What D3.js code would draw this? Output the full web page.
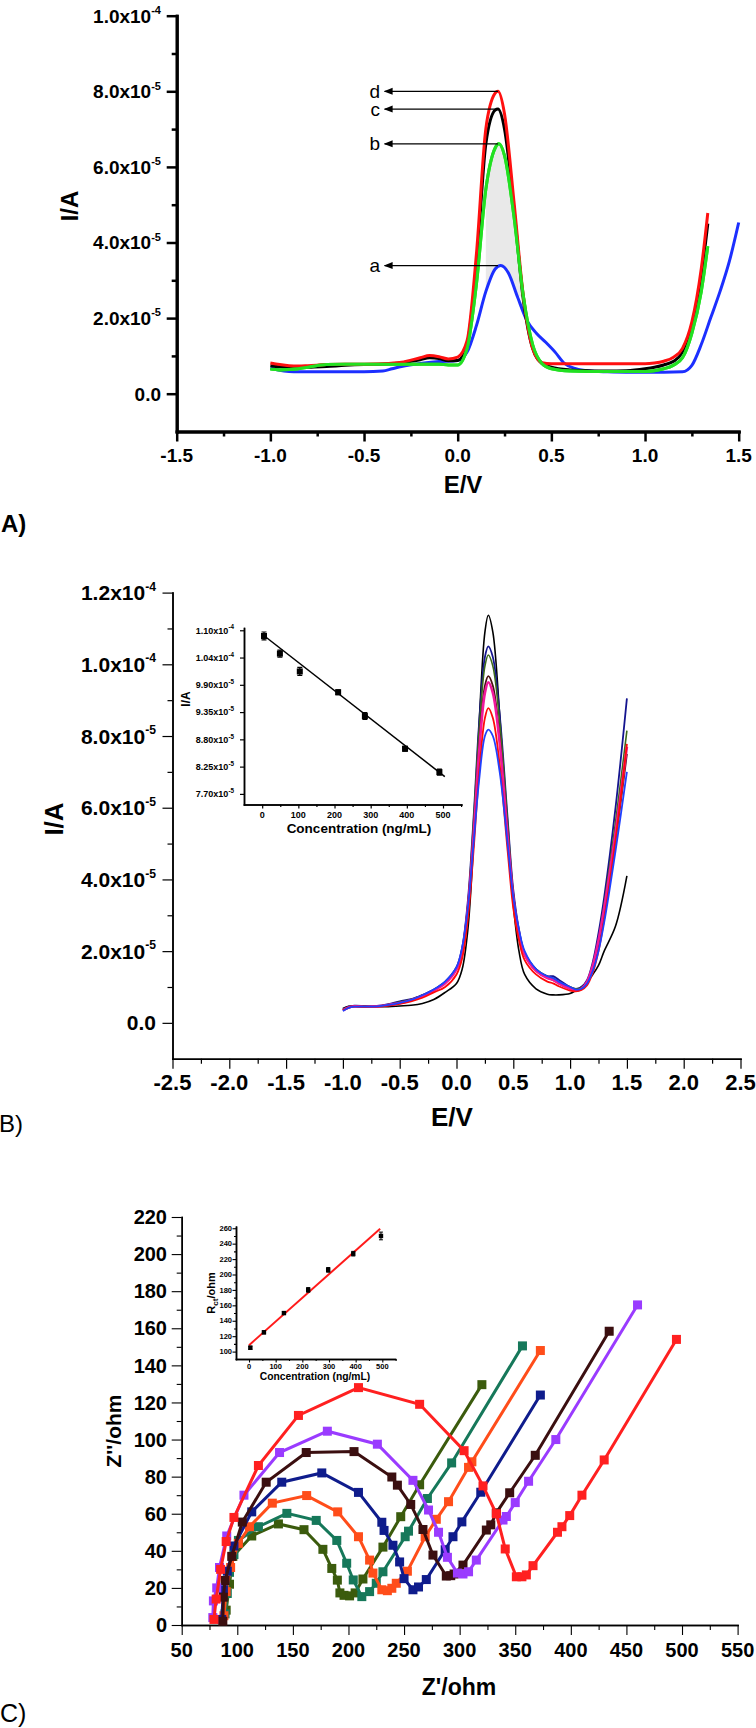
<!DOCTYPE html>
<html>
<head>
<meta charset="utf-8">
<script src="https://cdn.jsdelivr.net/npm/d3@7"></script>
<style>
  body { margin: 0; background: #fff; }
  svg { display: block; font-family: "Liberation Sans", Arial, Helvetica, sans-serif; }
</style>
</head>
<body>
<svg id="fig" width="756" height="1728"></svg>
<script>
// ---------------- data ----------------
// A) DPV curves, current in units of 1e-5 A, [E/V, I]
const aRed = [[-1.0,0.81],[-0.95,0.77],[-0.9,0.74],[-0.85,0.73],[-0.8,0.74],[-0.7,0.77],[-0.6,0.78],[-0.5,0.78],[-0.4,0.79],[-0.3,0.83],[-0.2,0.95],[-0.15,1.01],[-0.1,0.98],[-0.05,0.92],[0.0,0.97],[0.05,1.4],[0.1,3.7],[0.15,7.0],[0.2,7.95],[0.215,8.0],[0.25,7.4],[0.3,5.1],[0.35,2.6],[0.4,1.2],[0.45,0.82],[0.5,0.79],[0.6,0.79],[0.7,0.79],[0.8,0.79],[0.9,0.79],[1.0,0.79],[1.05,0.81],[1.1,0.86],[1.15,0.96],[1.2,1.2],[1.25,1.9],[1.3,3.3],[1.335,4.78]];
const aBlack = [[-1.0,0.74],[-0.95,0.71],[-0.9,0.69],[-0.85,0.69],[-0.8,0.7],[-0.7,0.72],[-0.6,0.75],[-0.5,0.77],[-0.4,0.78],[-0.3,0.82],[-0.2,0.9],[-0.15,0.95],[-0.1,0.93],[-0.05,0.87],[0.0,0.88],[0.05,1.3],[0.1,3.4],[0.15,6.6],[0.2,7.5],[0.215,7.53],[0.25,7.0],[0.3,4.9],[0.35,2.5],[0.4,1.2],[0.45,0.8],[0.5,0.7],[0.6,0.63],[0.7,0.61],[0.8,0.6],[0.9,0.61],[1.0,0.66],[1.05,0.7],[1.1,0.76],[1.15,0.85],[1.2,1.1],[1.25,1.8],[1.3,3.1],[1.335,4.5]];
const aGreen = [[-1.0,0.65],[-0.95,0.63],[-0.9,0.64],[-0.85,0.66],[-0.8,0.7],[-0.7,0.77],[-0.6,0.78],[-0.5,0.78],[-0.4,0.78],[-0.3,0.78],[-0.2,0.78],[-0.1,0.78],[-0.05,0.76],[0.0,0.76],[0.05,1.2],[0.1,2.9],[0.15,5.4],[0.2,6.5],[0.22,6.61],[0.25,6.3],[0.3,4.7],[0.35,2.6],[0.4,1.3],[0.45,0.8],[0.5,0.66],[0.6,0.6],[0.7,0.59],[0.8,0.59],[0.9,0.59],[1.0,0.59],[1.05,0.61],[1.1,0.66],[1.15,0.75],[1.2,0.95],[1.25,1.6],[1.3,2.7],[1.335,3.9]];
const aBlue = [[-1.0,0.68],[-0.95,0.62],[-0.9,0.59],[-0.85,0.58],[-0.8,0.58],[-0.7,0.58],[-0.6,0.58],[-0.5,0.58],[-0.4,0.6],[-0.35,0.66],[-0.3,0.72],[-0.2,0.8],[-0.1,0.85],[0.0,0.88],[0.05,1.1],[0.1,1.8],[0.15,2.7],[0.2,3.3],[0.23,3.39],[0.27,3.2],[0.32,2.55],[0.37,1.93],[0.42,1.6],[0.47,1.36],[0.52,1.1],[0.57,0.8],[0.63,0.66],[0.7,0.6],[0.8,0.58],[0.9,0.57],[1.0,0.57],[1.1,0.57],[1.2,0.58],[1.25,0.75],[1.3,1.3],[1.35,2.0],[1.4,2.7],[1.45,3.5],[1.5,4.53]];
const aLabels = ["d", "c", "b", "a"];
const aPeaks = [8.0, 7.53, 6.61, 3.39];
const aXTicks = [-1.5, -1.0, -0.5, 0.0, 0.5, 1.0, 1.5];
const aYTicks = [0, 2, 4, 6, 8, 10];

// B) DPV curves at different concentrations, current in 1e-5 A
const bE = [-1.0,-0.95,-0.9,-0.8,-0.7,-0.6,-0.5,-0.4,-0.3,-0.2,-0.1,0.0,0.05,0.1,0.15,0.2,0.25,0.28,0.32,0.38,0.45,0.5,0.55,0.6,0.7,0.8,0.85,0.9,1.0,1.05,1.1,1.15,1.2,1.25,1.3,1.4,1.5];
const bBlack = [0.40,0.46,0.46,0.44,0.45,0.45,0.47,0.49,0.54,0.65,0.85,1.1,1.5,2.6,5.0,8.4,10.9,11.37,10.9,8.6,5.3,3.3,2.0,1.35,0.95,0.8,0.78,0.78,0.82,0.9,1.0,1.15,1.35,1.6,2.0,2.7,4.1];
const bNavy = [0.38,0.45,0.48,0.47,0.47,0.52,0.6,0.66,0.78,0.93,1.15,1.55,2.1,3.4,5.7,8.4,10.2,10.5,10.2,8.6,5.7,3.7,2.6,1.95,1.5,1.3,1.3,1.2,1.0,0.95,1.0,1.2,1.7,2.5,3.5,6.0,9.05];
const bOlive = [0.37,0.44,0.47,0.46,0.46,0.51,0.58,0.65,0.77,0.92,1.13,1.52,2.05,3.3,5.6,8.2,9.95,10.26,9.95,8.4,5.6,3.6,2.55,1.95,1.5,1.3,1.25,1.15,1.0,0.95,0.98,1.15,1.6,2.3,3.3,5.6,8.15];
const bBrown = [0.36,0.44,0.47,0.45,0.46,0.5,0.56,0.64,0.76,0.91,1.12,1.5,2.0,3.25,5.3,7.75,9.4,9.67,9.4,7.95,5.3,3.55,2.5,1.9,1.45,1.25,1.2,1.1,0.95,0.9,0.95,1.15,1.55,2.2,3.1,5.1,7.5];
const bMagenta = [0.35,0.43,0.46,0.45,0.46,0.5,0.55,0.63,0.75,0.9,1.1,1.5,2.0,3.2,5.2,7.6,9.2,9.5,9.2,7.8,5.2,3.5,2.5,1.9,1.45,1.25,1.2,1.1,0.95,0.9,0.95,1.15,1.6,2.3,3.2,5.3,7.7];
const bRed = [0.35,0.42,0.45,0.44,0.45,0.48,0.53,0.6,0.7,0.85,1.0,1.35,1.8,2.9,4.8,7.0,8.5,8.78,8.5,7.2,4.8,3.2,2.3,1.75,1.35,1.15,1.1,1.02,0.9,0.88,0.92,1.05,1.4,2.0,2.9,5.1,7.78];
const bBlue = [0.33,0.42,0.45,0.45,0.46,0.5,0.56,0.64,0.77,0.93,1.15,1.55,2.1,3.2,5.0,6.8,8.0,8.18,8.0,7.0,5.0,3.5,2.6,2.0,1.5,1.3,1.25,1.15,1.0,0.93,0.95,1.1,1.45,2.0,2.8,4.8,7.0];
const bXTicks = [-2.5,-2.0,-1.5,-1.0,-0.5,0.0,0.5,1.0,1.5,2.0,2.5];
const bYTicks = [0, 2, 4, 6, 8, 10, 12];

// B inset: peak current vs concentration
const bConc = [5, 49, 104, 210, 284, 395, 490];
const bPeak = [10.885, 10.53, 10.17, 9.75, 9.27, 8.61, 8.14];
const bErr = [0.08, 0.07, 0.08, 0.05, 0.07, 0.05, 0.06];
const bFit = [[0, 10.92], [505, 8.05]];
const bInYTicks = [7.70, 8.25, 8.80, 9.35, 9.90, 10.45, 11.0];
const bInYLabels = [["7.70","-5"],["8.25","-5"],["8.80","-5"],["9.35","-5"],["9.90","-5"],["1.04","-4"],["1.10","-4"]];
const inXTicks = [0, 100, 200, 300, 400, 500];

// C) Nyquist plots, [Z'/ohm, Z''/ohm]
const cRed = [[79,3],[81,14],[85,30],[90,45],[97,58],[119,86],[155,113],[209,128],[264,119],[304,94],[321,75],[333,60],[341,41],[351,26],[356,26],[360,27],[366,32],[388,50],[392,53],[399,59],[410,70],[430,89],[495,154]];
const cPurple = [[78,4],[78.5,13],[81.5,20],[84,31],[90.5,48],[106,70],[138,93],[181,104.5],[226,97.5],[258,78],[272,62],[281,50],[289,36.5],[298,28],[303,27.5],[308,28.7],[315,35],[339,56.6],[342,58.5],[350,66],[362,77.5],[386.5,100],[460,172.6]];
const cBrown = [[87,2],[87.5,15],[89,24],[95,37],[104.5,55.5],[126,77],[162,93],[205,93.5],[239,79.8],[244,75.4],[256,65],[267,51.5],[276,37.7],[288,26.4],[292,26.6],[295,27.5],[303,32.3],[324,51.2],[328,54],[333,60.5],[345,71.3],[368,91.5],[434.5,158.4]];
const cNavy = [[86,3],[87.5,19],[91,29],[97,42.6],[113,61],[140,77],[176,82],[209,71.5],[230,55.4],[232,51],[240,43],[246,34],[250,25],[258,19],[263,20.5],[270,24.5],[287,40.6],[294,47.6],[302,55.6],[319,71.6],[372.6,124]];
const cOrange = [[88,5],[90,18],[94,31],[101,44],[111,53],[131.5,65.7],[162.4,69.8],[190.3,61],[209,47.6],[219,35],[222,28],[230,19],[235,18.5],[239,19.8],[243,22.5],[253,29],[269,47.6],[279,57],[290,66.5],[308,85],[311,88],[372.6,148]];
const cTeal = [[89,6],[91,17],[93,28.4],[97,38],[101,45.6],[119,53],[144.6,60.2],[171,56.4],[189.5,45.6],[198.4,33.3],[204.3,24.3],[212,15.3],[219,18],[225,22.5],[231,28.7],[251,47.6],[254,50.6],[271,68.2],[292.8,87.4],[356.5,150.5]];
const cOlive = [[90,8],[93,22],[96,37],[113,48],[137,54.5],[160,51.4],[177,40.8],[185,30.5],[190,24.2],[192.3,17.3],[196,16],[201,15.7],[206,17.3],[213,24.8],[231,42],[247,58.4],[264,75.6],[320,129.6]];
const cXTicks = [50,100,150,200,250,300,350,400,450,500,550];
const cYTicks = [0,20,40,60,80,100,120,140,160,180,200,220];

// C inset: Rct vs concentration
const cConc = [5, 56, 131, 222, 297, 391, 495];
const cRct = [105, 125, 150, 180, 206, 227, 250];
const cErr = [2, 2, 2, 3, 3, 3, 5];
const cFit = [[0, 108.3], [492, 259.4]];
const cInYTicks = [100,120,140,160,180,200,220,240,260];

// ---------------- helpers ----------------
const svg = d3.select("#fig");

svg.append("defs").append("marker")
  .attr("id", "arrow")
  .attr("viewBox", "0 -4 9 8")
  .attr("refX", 8).attr("refY", 0)
  .attr("markerWidth", 9).attr("markerHeight", 8)
  .attr("markerUnits", "userSpaceOnUse")
  .attr("orient", "auto")
  .append("path").attr("d", "M0,-3.5L9,0L0,3.5Z").attr("fill", "#000");

// draws left + bottom axes with major/minor ticks
function axes(g, x, y, o) {
  const yBase = y.range()[0], xBase = x.range()[0];
  const gx = g.append("g").attr("transform", `translate(0,${yBase})`);
  gx.append("g").call(d3.axisBottom(x).tickValues(o.xMinor).tickSize(o.tMin).tickSizeOuter(0).tickFormat(""));
  gx.append("g").call(d3.axisBottom(x).tickValues(o.xMajor).tickSize(o.tMaj).tickSizeOuter(0).tickFormat(""));
  const gy = g.append("g").attr("transform", `translate(${xBase},0)`);
  gy.append("g").call(d3.axisLeft(y).tickValues(o.yMinor).tickSize(o.tMin).tickSizeOuter(0).tickFormat(""));
  gy.append("g").call(d3.axisLeft(y).tickValues(o.yMajor).tickSize(o.tMaj).tickSizeOuter(0).tickFormat(""));
  g.selectAll("path.domain").attr("stroke", "#000").attr("stroke-width", o.sw).attr("stroke-linecap", "square");
  g.selectAll(".tick line").attr("stroke", "#000").attr("stroke-width", o.tw || o.sw);
}

function xLabels(g, x, vals, yPos, fs, fmt) {
  g.append("g").selectAll("text").data(vals).join("text")
    .attr("x", d => x(d)).attr("y", yPos)
    .attr("text-anchor", "middle").attr("font-size", fs).attr("font-weight", "bold")
    .text(fmt);
}

// y labels; fmt returns [mantissa, exponent]
function yLabels(g, y, vals, xPos, fs, fmt, supScale) {
  g.append("g").selectAll("text").data(vals).join("text")
    .attr("x", xPos).attr("y", d => y(d)).attr("dy", "0.36em")
    .attr("text-anchor", "end").attr("font-size", fs).attr("font-weight", "bold")
    .each(function(d, i) {
      const [m, e] = fmt(d, i);
      const t = d3.select(this);
      t.append("tspan").text(m);
      if (e) t.append("tspan").attr("font-size", fs * (supScale || 0.58)).attr("dy", -fs * 0.45).text(e);
    });
}

function sciFmt(v) {
  if (v === 0) return ["0.0", null];
  if (v >= 10) return [(v / 10).toFixed(1) + "x10", "-4"];
  return [v.toFixed(1) + "x10", "-5"];
}

function rotLabel(g, x, y, txt, fs, weight) {
  return g.append("text").attr("transform", `translate(${x},${y}) rotate(-90)`)
    .attr("text-anchor", "middle").attr("font-size", fs).attr("font-weight", weight || "bold").text(txt);
}

function range(a, b, s) { return d3.range(a, b + s / 2, s); }

// ---------------- panel A ----------------
{
  const g = svg.append("g");
  const x = d3.scaleLinear().domain([-1.5, 1.5]).range([176.7, 738.7]);
  const y = d3.scaleLinear().domain([-1, 10]).range([431.5, 15.7]);

  // light grey shading inside the peak
  const fillPts = aGreen.filter(p => p[0] >= 0.12 && p[0] <= 0.36)
    .concat(aBlue.filter(p => p[0] >= 0.12 && p[0] <= 0.36).reverse());
  g.append("path").attr("d", d3.line().x(d => x(d[0])).y(d => y(d[1])).curve(d3.curveLinearClosed)(fillPts))
    .attr("fill", "#e9e9e9");

  axes(g, x, y, {xMajor: aXTicks, xMinor: range(-1.25, 1.25, 0.5), yMajor: aYTicks, yMinor: [1,3,5,7,9],
                 tMaj: 10, tMin: 5, sw: 3, tw: 2.5});
  xLabels(g, x, aXTicks, 462, 19, d => d.toFixed(1));
  yLabels(g, y, aYTicks, 161, 19, sciFmt);

  const line = d3.line().x(d => x(d[0])).y(d => y(d[1])).curve(d3.curveMonotoneX);
  [[aBlue, "#1c2fff"], [aBlack, "#000"], [aGreen, "#22e022"], [aRed, "#ff1010"]].forEach(([d, c]) => {
    g.append("path").attr("d", line(d)).attr("fill", "none").attr("stroke", c)
      .attr("stroke-width", 3).attr("stroke-linejoin", "round");
  });
  // redraw green on top near the peak like the original
  g.append("path").attr("d", line(aGreen)).attr("fill", "none").attr("stroke", "#22e022").attr("stroke-width", 3);

  // annotation arrows
  aLabels.forEach((lab, i) => {
    g.append("line").attr("x1", x(0.215)).attr("x2", x(-0.39))
      .attr("y1", y(aPeaks[i])).attr("y2", y(aPeaks[i]))
      .attr("stroke", "#000").attr("stroke-width", 1.2).attr("marker-end", "url(#arrow)");
    g.append("text").attr("x", x(-0.415)).attr("y", y(aPeaks[i])).attr("dy", "0.35em")
      .attr("text-anchor", "end").attr("font-size", 19).text(lab);
  });

  g.append("text").attr("x", 463).attr("y", 493).attr("text-anchor", "middle")
    .attr("font-size", 24).attr("font-weight", "bold").text("E/V");
  rotLabel(g, 78, 206, "I/A", 24);
  g.append("text").attr("x", 1).attr("y", 532).attr("font-size", 24).attr("font-weight", "bold").text("A)");
}

// ---------------- panel B ----------------
{
  const g = svg.append("g");
  const x = d3.scaleLinear().domain([-2.5, 2.5]).range([172.5, 740.5]);
  const y = d3.scaleLinear().domain([-1, 12]).range([1058.7, 592.6]);

  axes(g, x, y, {xMajor: bXTicks, xMinor: range(-2.25, 2.25, 0.5), yMajor: bYTicks, yMinor: [1,3,5,7,9,11],
                 tMaj: 10, tMin: 5, sw: 3, tw: 2.5});
  xLabels(g, x, bXTicks, 1090, 22, d => d.toFixed(1));
  yLabels(g, y, bYTicks, 156, 21, sciFmt);

  const line = d3.line().x(d => x(d[0])).y(d => y(d[1])).curve(d3.curveCatmullRom.alpha(0.5));
  [[bBlack, "#000", 1.6], [bNavy, "#14148f", 1.8], [bOlive, "#3d6a1a", 1.6], [bBrown, "#4a1212", 1.8],
   [bMagenta, "#f0189c", 2.6], [bRed, "#ff0a0a", 1.8], [bBlue, "#2040ff", 1.8]].forEach(([vals, c, w]) => {
    g.append("path").attr("d", line(bE.map((e, i) => [e, vals[i]])))
      .attr("fill", "none").attr("stroke", c).attr("stroke-width", w);
  });

  g.append("text").attr("x", 452).attr("y", 1126).attr("text-anchor", "middle")
    .attr("font-size", 26).attr("font-weight", "bold").text("E/V");
  rotLabel(g, 63, 819, "I/A", 26);
  g.append("text").attr("x", -1).attr("y", 1132).attr("font-size", 24).text("B)");

  // inset
  const xi = d3.scaleLinear().domain([-50.3, 550.6]).range([244, 461.3]);
  const yi = d3.scaleLinear().domain([7.486, 11.046]).range([804.5, 628]);
  axes(g, xi, yi, {xMajor: inXTicks, xMinor: range(50, 550, 100), yMajor: bInYTicks, yMinor: [],
                   tMaj: 4, tMin: 2.5, sw: 1.5, tw: 1.2});
  xLabels(g, xi, inXTicks, 818, 9, d => d);
  yLabels(g, yi, bInYTicks, 234, 9, (d, i) => [bInYLabels[i][0] + "x10", bInYLabels[i][1]], 0.7);

  g.append("path").attr("d", d3.line().x(d => xi(d[0])).y(d => yi(d[1]))(bFit))
    .attr("stroke", "#000").attr("stroke-width", 1.5).attr("fill", "none");
  const pts = g.append("g").selectAll("g").data(bConc).join("g");
  pts.append("path").attr("d", (d, i) => {
    const cx = xi(d), t = yi(bPeak[i] + bErr[i]), b = yi(bPeak[i] - bErr[i]);
    return `M${cx - 2.5},${t}H${cx + 2.5}M${cx},${t}V${b}M${cx - 2.5},${b}H${cx + 2.5}`;
  }).attr("stroke", "#000").attr("stroke-width", 1.2).attr("fill", "none");
  pts.append("rect").attr("x", d => xi(d) - 3).attr("y", (d, i) => yi(bPeak[i]) - 3)
    .attr("width", 6).attr("height", 6).attr("fill", "#000");

  g.append("text").attr("x", 359).attr("y", 833).attr("text-anchor", "middle")
    .attr("font-size", 13.5).attr("font-weight", "bold").text("Concentration (ng/mL)");
  rotLabel(g, 190, 699, "I/A", 12);
}

// ---------------- panel C ----------------
{
  const g = svg.append("g");
  const x = d3.scaleLinear().domain([50, 550]).range([181.7, 737.6]);
  const y = d3.scaleLinear().domain([0, 220]).range([1625, 1217]);

  axes(g, x, y, {xMajor: cXTicks, xMinor: range(75, 525, 50), yMajor: cYTicks, yMinor: range(10, 210, 20),
                 tMaj: 10, tMin: 5, sw: 3, tw: 2.5});
  xLabels(g, x, cXTicks, 1657, 20, d => d);
  yLabels(g, y, cYTicks, 167, 20, d => [String(d), null]);

  const line = d3.line().x(d => x(d[0])).y(d => y(d[1]));
  [[cOlive, "#3b5b0d"], [cTeal, "#16785a"], [cOrange, "#ff4d1a"], [cNavy, "#0f1c8c"],
   [cBrown, "#3b0f10"], [cPurple, "#9a3bff"], [cRed, "#ff2020"]].forEach(([d, c]) => {
    g.append("path").attr("d", line(d)).attr("fill", "none").attr("stroke", c).attr("stroke-width", 3);
    g.append("g").selectAll("rect").data(d).join("rect")
      .attr("x", p => x(p[0]) - 4.5).attr("y", p => y(p[1]) - 4.5)
      .attr("width", 9).attr("height", 9).attr("fill", c);
  });

  g.append("text").attr("x", 459).attr("y", 1695).attr("text-anchor", "middle")
    .attr("font-size", 23).attr("font-weight", "bold").text("Z'/ohm");
  rotLabel(g, 121, 1431, "Z''/ohm", 21);
  g.append("text").attr("x", 0).attr("y", 1722).attr("font-size", 25).text("C)");

  // inset
  const xi = d3.scaleLinear().domain([-48.8, 547.6]).range([236, 395]);
  const yi = d3.scaleLinear().domain([90.4, 262]).range([1359, 1226.7]);
  axes(g, xi, yi, {xMajor: inXTicks, xMinor: range(50, 550, 100), yMajor: cInYTicks, yMinor: range(110, 250, 20),
                   tMaj: 3.5, tMin: 2, sw: 1.5, tw: 1.1});
  xLabels(g, xi, inXTicks, 1369, 7.5, d => d);
  yLabels(g, yi, cInYTicks, 232, 7.5, d => [String(d), null]);

  g.append("path").attr("d", d3.line().x(d => xi(d[0])).y(d => yi(d[1]))(cFit))
    .attr("stroke", "#ff1a1a").attr("stroke-width", 2).attr("fill", "none");
  const pts = g.append("g").selectAll("g").data(cConc).join("g");
  pts.append("path").attr("d", (d, i) => {
    const cx = xi(d), t = yi(cRct[i] + cErr[i]), b = yi(cRct[i] - cErr[i]);
    return `M${cx - 2},${t}H${cx + 2}M${cx},${t}V${b}M${cx - 2},${b}H${cx + 2}`;
  }).attr("stroke", "#000").attr("stroke-width", 1).attr("fill", "none");
  pts.append("rect").attr("x", d => xi(d) - 2.2).attr("y", (d, i) => yi(cRct[i]) - 2.2)
    .attr("width", 4.4).attr("height", 4.4).attr("fill", "#000");

  g.append("text").attr("x", 315).attr("y", 1380).attr("text-anchor", "middle")
    .attr("font-size", 10.3).attr("font-weight", "bold").text("Concentration (ng/mL)");
  const rl = g.append("text").attr("transform", "translate(215,1293) rotate(-90)")
    .attr("text-anchor", "middle").attr("font-size", 11).attr("font-weight", "bold");
  rl.append("tspan").text("R");
  rl.append("tspan").attr("font-size", 8).attr("dy", 3).text("ct");
  rl.append("tspan").attr("dy", -3).text("/ohm");
}
</script>
</body>
</html>
